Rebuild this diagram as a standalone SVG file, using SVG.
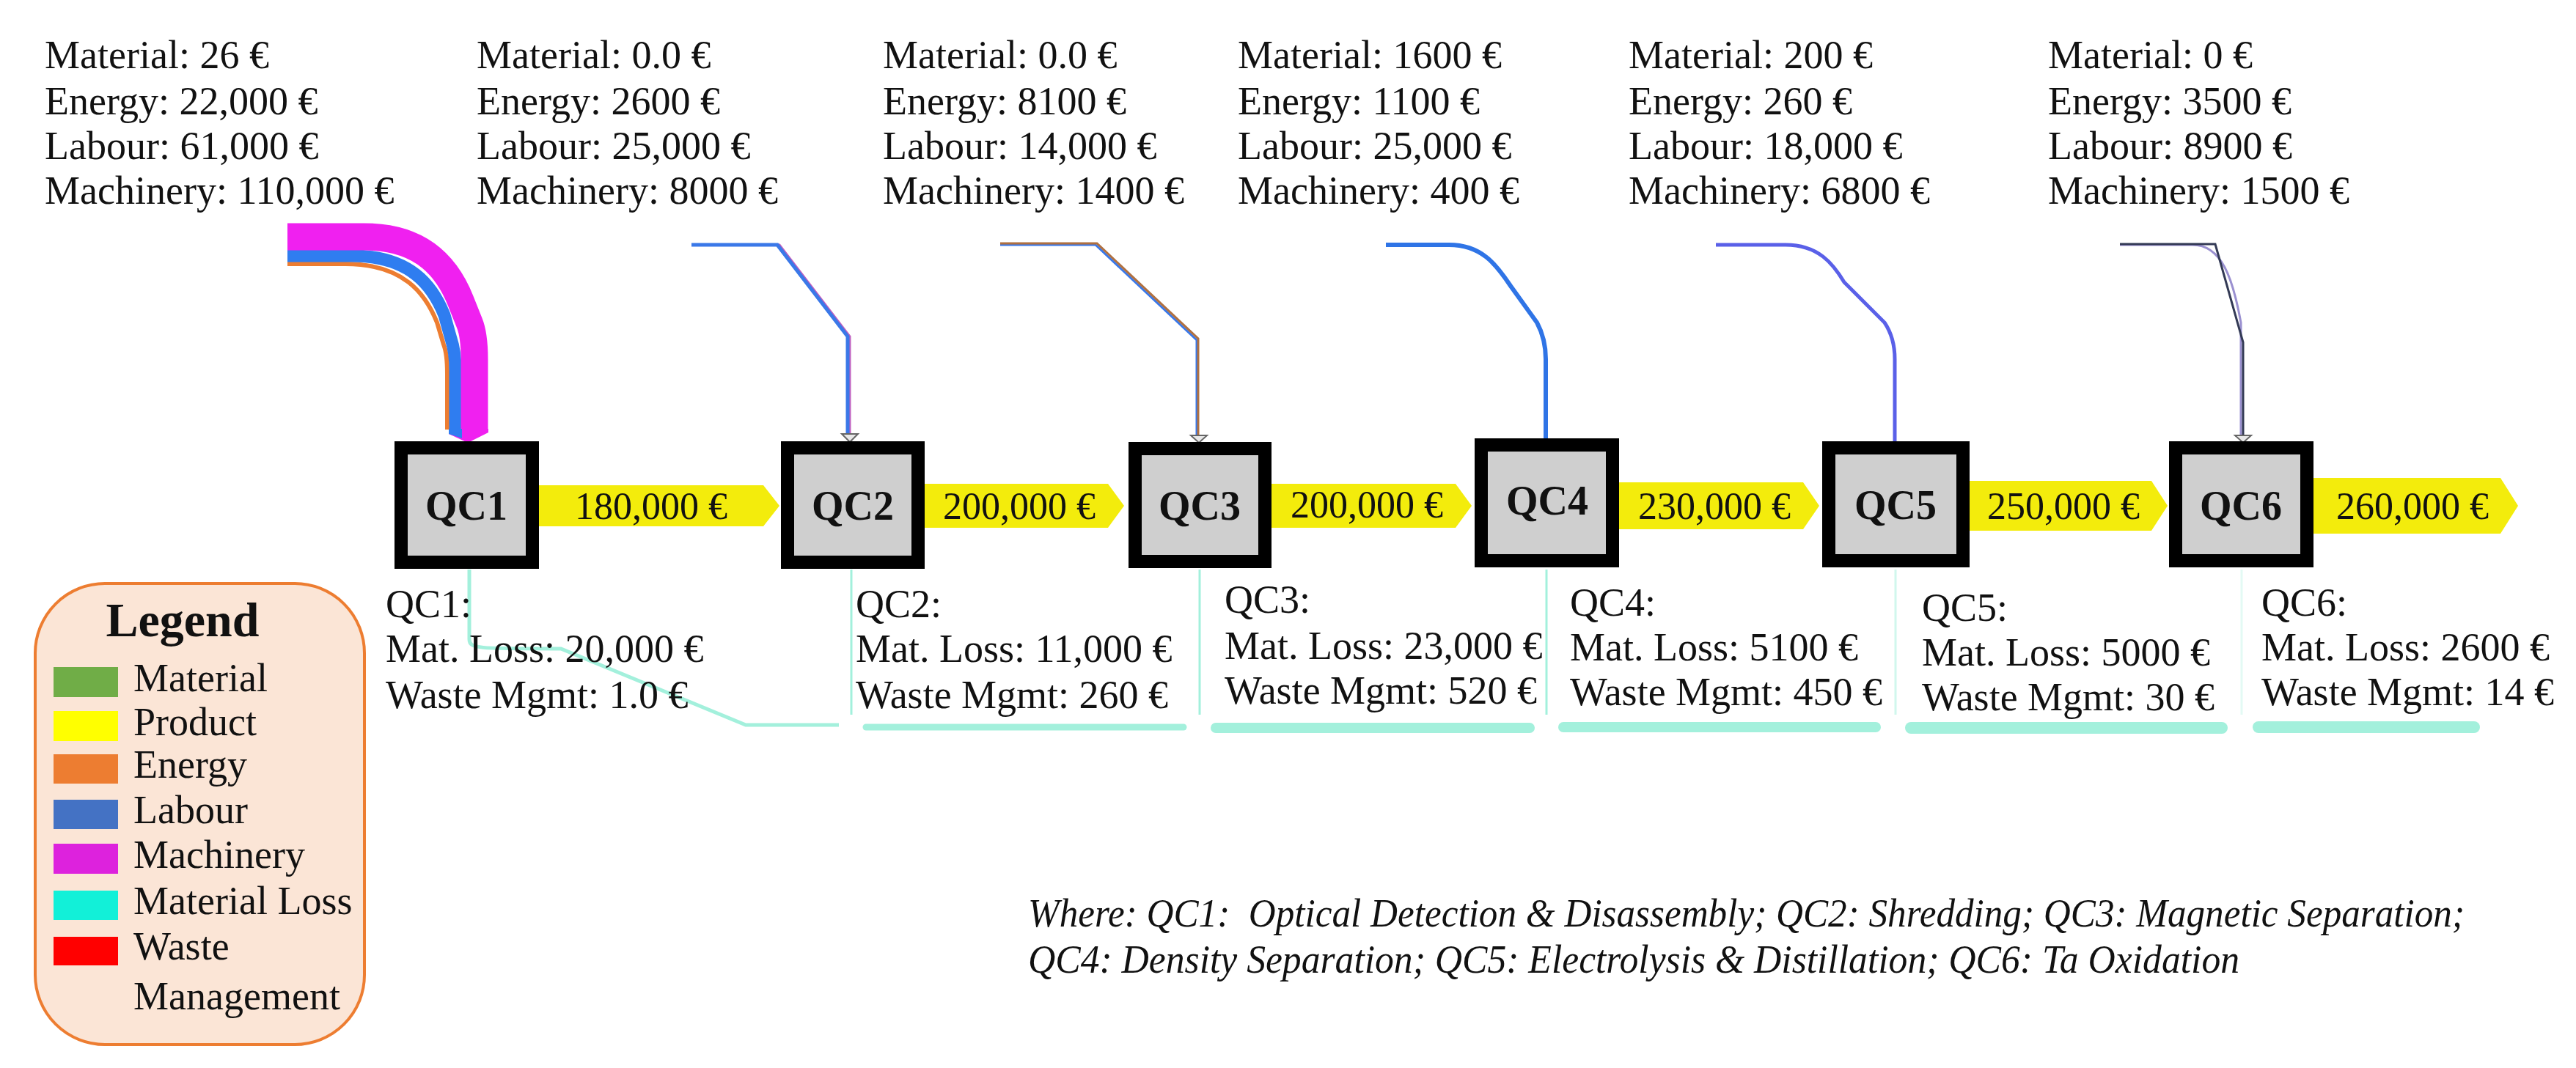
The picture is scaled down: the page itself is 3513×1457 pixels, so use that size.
<svg xmlns="http://www.w3.org/2000/svg" width="3513" height="1457" viewBox="0 0 3513 1457">
<style>
text{font-family:"Liberation Serif","Times New Roman",serif;fill:#111}
.t{font-size:54px}
.qc{font-size:56px;font-weight:bold;text-anchor:middle}
.box{fill:#cfcfcf;stroke:#000;stroke-width:18}
.prod{fill:#f3ec0c}
.pt{font-size:52px;text-anchor:middle}
.loss{fill:none;stroke:#a3f0dc;stroke-linecap:round}
.vl{fill:none;stroke:#a3f0dc;stroke-width:3}
.it{font-size:54px;font-style:italic}
.ah{fill:#e8e8e8;stroke:#666;stroke-width:2}
</style>
<rect width="3513" height="1457" fill="#fff"/>

<g id="inputs-text">
<text class="t" x="61" y="93">Material: 26 €</text><text class="t" x="61" y="156">Energy: 22,000 €</text><text class="t" x="61" y="217">Labour: 61,000 €</text><text class="t" x="61" y="278">Machinery: 110,000 €</text>
<text class="t" x="650" y="93">Material: 0.0 €</text><text class="t" x="650" y="156">Energy: 2600 €</text><text class="t" x="650" y="217">Labour: 25,000 €</text><text class="t" x="650" y="278">Machinery: 8000 €</text>
<text class="t" x="1204" y="93">Material: 0.0 €</text><text class="t" x="1204" y="156">Energy: 8100 €</text><text class="t" x="1204" y="217">Labour: 14,000 €</text><text class="t" x="1204" y="278">Machinery: 1400 €</text>
<text class="t" x="1688" y="93">Material: 1600 €</text><text class="t" x="1688" y="156">Energy: 1100 €</text><text class="t" x="1688" y="217">Labour: 25,000 €</text><text class="t" x="1688" y="278">Machinery: 400 €</text>
<text class="t" x="2221" y="93">Material: 200 €</text><text class="t" x="2221" y="156">Energy: 260 €</text><text class="t" x="2221" y="217">Labour: 18,000 €</text><text class="t" x="2221" y="278">Machinery: 6800 €</text>
<text class="t" x="2793" y="93">Material: 0 €</text><text class="t" x="2793" y="156">Energy: 3500 €</text><text class="t" x="2793" y="217">Labour: 8900 €</text><text class="t" x="2793" y="278">Machinery: 1500 €</text>
</g>

<g id="connectors">
<!-- QC1 input bands -->
<path d="M392 360 H471 C550 360 580 400 596 440 L605 470 C609 480 610 490 610 510 V586" fill="none" stroke="#ed7d31" stroke-width="6"/>
<path d="M392 349 H480 C560 349 590 390 606 430 L615 462 C619 474 621 486 621 505 V586" fill="none" stroke="#2f7df0" stroke-width="17"/>
<path d="M392 323 H497 C580 323 612 370 628 410 L640 440 C645 452 647 470 647 490 V586" fill="none" stroke="#f020f0" stroke-width="37"/>
<polygon points="612,585 666,585 666,590 638,604 612,592" fill="#f020f0"/>
<polygon points="612,585 630,585 630,598 612,592" fill="#2f7df0"/>
<!-- QC2 input -->
<path d="M943 334 H1063 L1159 459 V592" fill="none" stroke="#c060c0" stroke-width="3"/>
<path d="M943 334 H1060 L1156 459 V592" fill="none" stroke="#3a78e8" stroke-width="5"/>
<polygon class="ah" points="1148,592 1170,592 1159,603"/>
<!-- QC3 input -->
<path d="M1364 334 H1494 L1632 464 V594" fill="none" stroke="#3a78e8" stroke-width="3"/>
<path d="M1364 332 H1496 L1634 462 V594" fill="none" stroke="#b07040" stroke-width="3"/>
<polygon class="ah" points="1624,594 1646,594 1635,604"/>
<!-- QC4 input -->
<path d="M1890 334 H1976 C2020 334 2040 360 2060 390 L2096 440 C2104 455 2108 470 2108 490 V598" fill="none" stroke="#2f74e6" stroke-width="6"/>
<!-- QC5 input -->
<path d="M2340 334 H2435 C2480 334 2500 360 2515 385 L2570 440 C2580 455 2584 470 2584 490 V602" fill="none" stroke="#5a60e8" stroke-width="5"/>
<!-- QC6 input -->
<path d="M2891 334 H2990 C3030 334 3045 380 3056 440 V594" fill="none" stroke="#9a90d0" stroke-width="3"/>
<path d="M2891 333 H3021 L3059 467 V594" fill="none" stroke="#333a55" stroke-width="3"/>
<polygon class="ah" points="3048,594 3070,594 3059,604"/>

<!-- product arrows -->
<polygon class="prod" points="735,662 1041,662 1063,690 1041,718 735,718"/>
<polygon class="prod" points="1261,660 1511,660 1533,690 1511,720 1261,720"/>
<polygon class="prod" points="1734,660 1985,660 2007,690 1985,720 1734,720"/>
<polygon class="prod" points="2208,658 2459,658 2481,690 2459,722 2208,722"/>
<polygon class="prod" points="2686,656 2934,656 2956,690 2934,724 2686,724"/>
<polygon class="prod" points="3155,652 3410,652 3434,690 3410,728 3155,728"/>

<!-- material loss lines -->
<path d="M640 777 V872 C640 885 650 885 765 885 L1017 989 H1144" fill="none" stroke="#a3f0dc" stroke-width="5"/>
<path class="vl" d="M1161 777 V975"/>
<path class="vl" d="M1636 777 V975"/>
<path class="vl" d="M2109 777 V975"/>
<path class="vl" d="M2585 777 V975" stroke-opacity="0.5"/>
<path class="vl" d="M3057 777 V975" stroke-opacity="0.3"/>
<path class="loss" d="M1181 992 H1614" stroke-width="9"/>
<path class="loss" d="M1658 993 H2086" stroke-width="14"/>
<path class="loss" d="M2132 992 H2558" stroke-width="14"/>
<path class="loss" d="M2606 993 H3030" stroke-width="16"/>
<path class="loss" d="M3080 992 H3374" stroke-width="16"/>
</g>

<g id="qc1"><rect class="box" x="547" y="611" width="179" height="156"/><text class="qc" x="636" y="709">QC1</text></g>
<g id="qc2"><rect class="box" x="1074" y="611" width="178" height="156"/><text class="qc" x="1163" y="709">QC2</text></g>
<g id="qc3"><rect class="box" x="1548" y="612" width="177" height="154"/><text class="qc" x="1636" y="709">QC3</text></g>
<g id="qc4"><rect class="box" x="2020" y="607" width="179" height="158"/><text class="qc" x="2110" y="702">QC4</text></g>
<g id="qc5"><rect class="box" x="2494" y="611" width="183" height="154"/><text class="qc" x="2585" y="708">QC5</text></g>
<g id="qc6"><rect class="box" x="2967" y="611" width="179" height="154"/><text class="qc" x="3056" y="709">QC6</text></g>

<g id="product-labels">
<text class="pt" x="888" y="708">180,000 €</text>
<text class="pt" x="1390" y="708">200,000 €</text>
<text class="pt" x="1864" y="706">200,000 €</text>
<text class="pt" x="2338" y="708">230,000 €</text>
<text class="pt" x="2814" y="708">250,000 €</text>
<text class="pt" x="3290" y="708">260,000 €</text>
</g>

<g id="loss-text">
<text class="t" x="526" y="842">QC1:</text><text class="t" x="526" y="903">Mat. Loss: 20,000 €</text><text class="t" x="526" y="966">Waste Mgmt: 1.0 €</text>
<text class="t" x="1167" y="842">QC2:</text><text class="t" x="1167" y="903">Mat. Loss: 11,000 €</text><text class="t" x="1167" y="966">Waste Mgmt: 260 €</text>
<text class="t" x="1670" y="836">QC3:</text><text class="t" x="1670" y="899">Mat. Loss: 23,000 €</text><text class="t" x="1670" y="960">Waste Mgmt: 520 €</text>
<text class="t" x="2141" y="840">QC4:</text><text class="t" x="2141" y="901">Mat. Loss: 5100 €</text><text class="t" x="2141" y="962">Waste Mgmt: 450 €</text>
<text class="t" x="2621" y="847">QC5:</text><text class="t" x="2621" y="908">Mat. Loss: 5000 €</text><text class="t" x="2621" y="969">Waste Mgmt: 30 €</text>
<text class="t" x="3084" y="840">QC6:</text><text class="t" x="3084" y="901">Mat. Loss: 2600 €</text><text class="t" x="3084" y="962">Waste Mgmt: 14 €</text>
</g>

<g id="legend">
<rect x="48" y="796" width="449" height="629" rx="95" fill="#fbe5d6" stroke="#ed7d31" stroke-width="4"/>
<text x="249" y="868" font-size="66" font-weight="bold" text-anchor="middle">Legend</text>
<rect x="73" y="910" width="88" height="41" fill="#70ad47"/><text class="t" x="182" y="943">Material</text>
<rect x="73" y="970" width="88" height="41" fill="#ffff00"/><text class="t" x="182" y="1003">Product</text>
<rect x="73" y="1029" width="88" height="40" fill="#ed7d31"/><text class="t" x="182" y="1061">Energy</text>
<rect x="73" y="1091" width="88" height="40" fill="#4472c4"/><text class="t" x="182" y="1123">Labour</text>
<rect x="73" y="1151" width="88" height="41" fill="#dd22dd"/><text class="t" x="182" y="1184">Machinery</text>
<rect x="73" y="1215" width="88" height="40" fill="#12f0d8"/><text class="t" x="182" y="1247">Material Loss</text>
<rect x="73" y="1278" width="88" height="39" fill="#ff0000"/><text class="t" x="182" y="1309">Waste</text>
<text class="t" x="182" y="1377">Management</text>
</g>

<g id="footnote">
<text class="it" x="1402" y="1264" textLength="1959" lengthAdjust="spacingAndGlyphs" xml:space="preserve">Where: QC1:  Optical Detection &amp; Disassembly; QC2: Shredding; QC3: Magnetic Separation;</text>
<text class="it" x="1402" y="1327" textLength="1652" lengthAdjust="spacingAndGlyphs">QC4: Density Separation; QC5: Electrolysis &amp; Distillation; QC6: Ta Oxidation</text>
</g>
</svg>
